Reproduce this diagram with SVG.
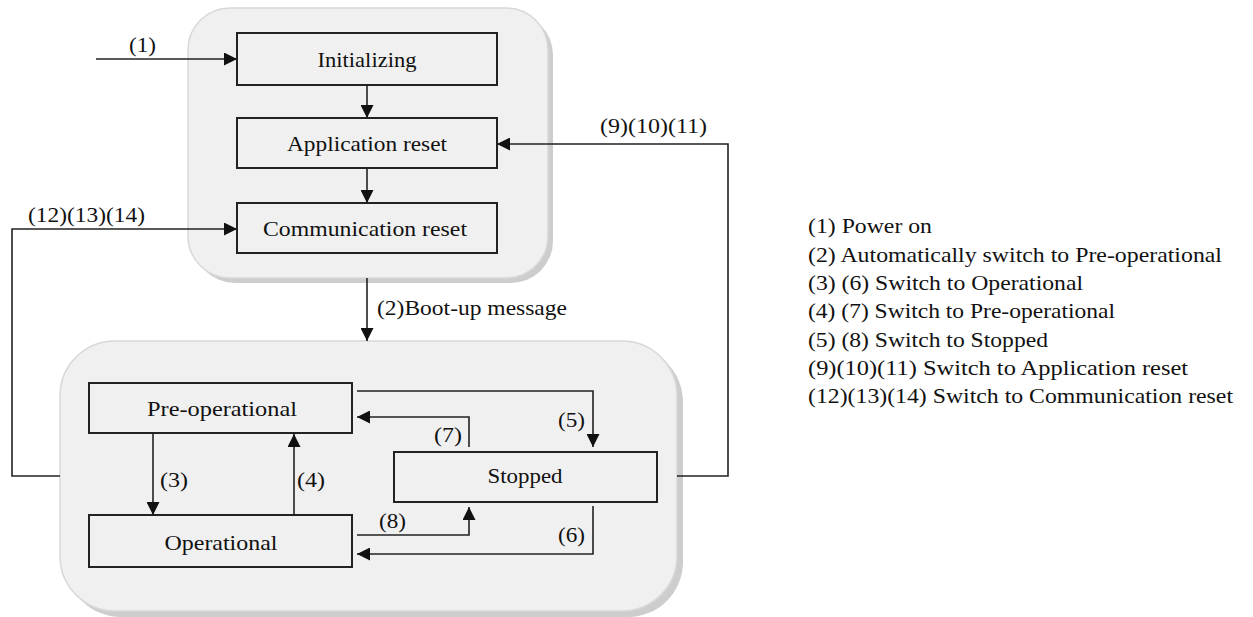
<svg xmlns="http://www.w3.org/2000/svg" width="1253" height="617" viewBox="0 0 1253 617">
<style>
.cont{fill:#f0f0f0;stroke:#d8d8d8;stroke-width:1.5}
.shadow{fill:#cdcdcd}
.node{fill:#f0f0f0;stroke:#222;stroke-width:2}
.t{font-family:"Liberation Serif","Times New Roman",serif;font-size:22px;fill:#111}
.c{text-anchor:middle}
.ln{fill:none;stroke:#222;stroke-width:1.6}
</style>
<defs>
<marker id="ah" markerUnits="userSpaceOnUse" markerWidth="13" markerHeight="13" refX="13" refY="6.5" orient="auto">
<path d="M0,0 L13,6.5 L0,13 z" fill="#111"/>
</marker>
</defs>
<rect width="1253" height="617" fill="#fff"/>
<g id="container-top">
<rect class="shadow" x="193" y="13" width="360" height="270" rx="42"/>
<rect class="cont" x="188" y="8" width="360" height="270" rx="42"/>
</g>
<g id="container-bottom">
<rect class="shadow" x="66" y="347" width="617" height="270" rx="55"/>
<rect class="cont" x="60" y="341" width="617" height="270" rx="55"/>
</g>
<g id="initializing">
<rect class="node" x="237" y="33" width="260" height="52"/>
<text class="t c" x="367" y="67" textLength="99" lengthAdjust="spacingAndGlyphs">Initializing</text>
</g>
<g id="application-reset">
<rect class="node" x="237" y="118" width="260" height="50"/>
<text class="t c" x="367" y="151" textLength="160" lengthAdjust="spacingAndGlyphs">Application reset</text>
</g>
<g id="communication-reset">
<rect class="node" x="237" y="203" width="260" height="50"/>
<text class="t c" x="365" y="236" textLength="204" lengthAdjust="spacingAndGlyphs">Communication reset</text>
</g>
<g id="pre-operational">
<rect class="node" x="89" y="383" width="263" height="50"/>
<text class="t c" x="222" y="416" textLength="150" lengthAdjust="spacingAndGlyphs">Pre-operational</text>
</g>
<g id="operational">
<rect class="node" x="89" y="515" width="263" height="52"/>
<text class="t c" x="221" y="550" textLength="113" lengthAdjust="spacingAndGlyphs">Operational</text>
</g>
<g id="stopped">
<rect class="node" x="394" y="452" width="263" height="50"/>
<text class="t c" x="525" y="483" textLength="75" lengthAdjust="spacingAndGlyphs">Stopped</text>
</g>
<g id="connectors">
<path class="ln" d="M96,59 H237" marker-end="url(#ah)"/>
<path class="ln" d="M367,85 V118" marker-end="url(#ah)"/>
<path class="ln" d="M367,168 V203" marker-end="url(#ah)"/>
<path class="ln" d="M367,278 V341" marker-end="url(#ah)"/>
<path class="ln" d="M60,476 H12 V229 H237" marker-end="url(#ah)"/>
<path class="ln" d="M677,476 H728 V144 H497" marker-end="url(#ah)"/>
<path class="ln" d="M357,391 H593 V447" marker-end="url(#ah)"/>
<path class="ln" d="M469,447 V417 H357" marker-end="url(#ah)"/>
<path class="ln" d="M153,433 V515" marker-end="url(#ah)"/>
<path class="ln" d="M294,515 V434" marker-end="url(#ah)"/>
<path class="ln" d="M357,535 H469 V507" marker-end="url(#ah)"/>
<path class="ln" d="M593,506 V554 H357" marker-end="url(#ah)"/>
<text class="t" x="129" y="52" textLength="27" lengthAdjust="spacingAndGlyphs">(1)</text>
<text class="t" x="28" y="222" textLength="117" lengthAdjust="spacingAndGlyphs">(12)(13)(14)</text>
<text class="t" x="600" y="133" textLength="107" lengthAdjust="spacingAndGlyphs">(9)(10)(11)</text>
<text class="t" x="377" y="315" textLength="190" lengthAdjust="spacingAndGlyphs">(2)Boot-up message</text>
<text class="t" x="558" y="427" textLength="27" lengthAdjust="spacingAndGlyphs">(5)</text>
<text class="t" x="434" y="442" textLength="28" lengthAdjust="spacingAndGlyphs">(7)</text>
<text class="t" x="160" y="487" textLength="28" lengthAdjust="spacingAndGlyphs">(3)</text>
<text class="t" x="297" y="487" textLength="28" lengthAdjust="spacingAndGlyphs">(4)</text>
<text class="t" x="379" y="528" textLength="27" lengthAdjust="spacingAndGlyphs">(8)</text>
<text class="t" x="558" y="542" textLength="27" lengthAdjust="spacingAndGlyphs">(6)</text>
</g>
<g id="legend">
<text class="t" x="808" y="233" textLength="124" lengthAdjust="spacingAndGlyphs">(1) Power  on</text>
<text class="t" x="808" y="262" textLength="414" lengthAdjust="spacingAndGlyphs">(2) Automatically switch to Pre-operational</text>
<text class="t" x="808" y="290" textLength="275" lengthAdjust="spacingAndGlyphs">(3) (6) Switch to Operational</text>
<text class="t" x="808" y="318" textLength="307" lengthAdjust="spacingAndGlyphs">(4) (7) Switch to Pre-operational</text>
<text class="t" x="808" y="347" textLength="240" lengthAdjust="spacingAndGlyphs">(5) (8) Switch to Stopped</text>
<text class="t" x="808" y="375" textLength="380" lengthAdjust="spacingAndGlyphs">(9)(10)(11)  Switch to Application reset</text>
<text class="t" x="808" y="403" textLength="425" lengthAdjust="spacingAndGlyphs">(12)(13)(14) Switch to Communication reset</text>
</g>
</svg>
